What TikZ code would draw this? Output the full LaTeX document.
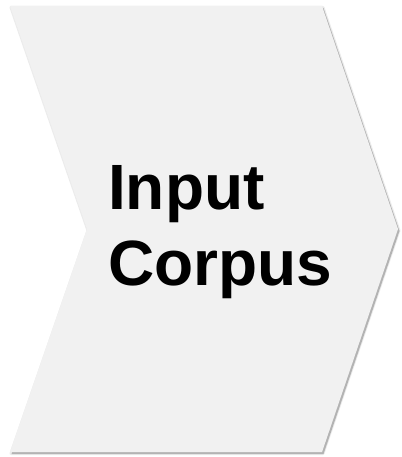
\documentclass[tikz,border=0pt]{standalone}
\usepackage{fontspec}
\setmainfont{Liberation Sans}
\usetikzlibrary{shadows,calc}

\definecolor{stagefill}{HTML}{F1F1F1}

\begin{document}
\begin{tikzpicture}[
    x=1pt, y=-1pt,
    stage/.style={fill=stagefill, draw=none,
      drop shadow={shadow xshift=1.5pt, shadow yshift=-2pt, opacity=0.35, fill=black!70}},
    stageglow/.style={draw=black, line width=3pt, opacity=0.08, line join=round},
    stagelabel/.style={anchor=north west, inner sep=0pt, align=left,
      font=\fontsize{64}{76}\selectfont\bfseries}
]
\useasboundingbox (0,0) rectangle (401,457);

% soft edge round the chevron
\path[stageglow, shift={(1,1.5)}] (10,6) -- (322,6) -- (398,229) -- (322,452) -- (10,452) -- (87,229) -- cycle;
% chevron of the stage
\path[stage] (10,6) -- (322,6) -- (398,229) -- (322,452) -- (10,452) -- (87,229) -- cycle;
\coordinate (Stage) at (87,229);

\node[stagelabel] (Corpus) at (108,165) {Input\\Corpus};
\end{tikzpicture}
\end{document}
